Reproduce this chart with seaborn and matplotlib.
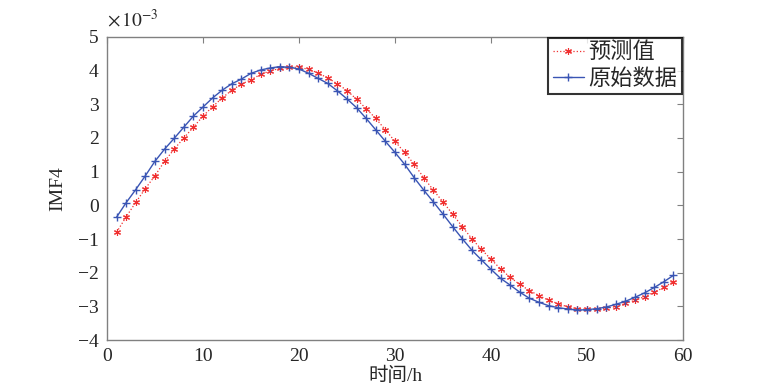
import numpy as np
import seaborn as sns
from matplotlib import pyplot as plt

# hours 1..59, values in units of 1e-3
hours = list(range(1, 60))

original = [-0.35, 0.08, 0.47, 0.88, 1.31, 1.67, 1.99, 2.32, 2.65, 2.92,
            3.19, 3.42, 3.61, 3.75, 3.92, 4.02, 4.08, 4.12, 4.10, 4.05,
            3.92, 3.77, 3.62, 3.40, 3.16, 2.90, 2.58, 2.24, 1.90, 1.57,
            1.22, 0.82, 0.45, 0.10, -0.26, -0.63, -0.99, -1.33, -1.62, -1.90,
            -2.17, -2.37, -2.58, -2.76, -2.88, -2.98, -3.04, -3.08, -3.11, -3.10,
            -3.07, -3.02, -2.94, -2.85, -2.73, -2.60, -2.44, -2.27, -2.08]

predicted = [-0.80, -0.34, 0.09, 0.50, 0.88, 1.31, 1.67, 2.00, 2.32, 2.65,
             2.93, 3.19, 3.42, 3.60, 3.73, 3.89, 3.99, 4.07, 4.10, 4.10,
             4.04, 3.93, 3.78, 3.61, 3.41, 3.15, 2.87, 2.58, 2.24, 1.90,
             1.57, 1.22, 0.82, 0.45, 0.10, -0.26, -0.63, -0.99, -1.31, -1.60,
             -1.89, -2.14, -2.35, -2.53, -2.68, -2.82, -2.92, -3.02, -3.07, -3.09,
             -3.09, -3.05, -3.01, -2.91, -2.82, -2.71, -2.58, -2.44, -2.27]

xticks = list(range(0, 61, 10))
yticks = list(range(-4, 6))

red = '#f03030'
blue = '#3a55b4'

sns.set_style("white")
plt.rcParams['font.family'] = ['Liberation Serif', 'Noto Sans CJK SC']
plt.rcParams['mathtext.fontset'] = 'stix'

fig = plt.figure(figsize=(7.73, 3.91), dpi=100)
ax = fig.add_axes([0.1384, 0.1304, 0.7452, 0.775])

# seaborn defaults to white marker edges, so set them explicitly
# (6, 2, 0) = MATLAB-style asterisk
sns.lineplot(x=hours, y=predicted, ax=ax, color=red, linestyle=':',
             linewidth=0.9, marker=(6, 2, 0), markersize=5, markeredgewidth=0.8,
             markeredgecolor=red, label='预测值')
sns.lineplot(x=hours, y=original, ax=ax, color=blue, linestyle='-',
             linewidth=1.0, marker='+', markersize=6, markeredgewidth=1.0,
             markeredgecolor=blue, label='原始数据')

ax.set_xlim(0, 60)
ax.set_ylim(-4, 5)
ax.set_xticks(xticks)
ax.set_yticks(yticks)
ax.tick_params(direction='in', length=4, width=0.8, color='#808080',
               labelsize=14, top=True, right=True, pad=6)
for s in ax.spines.values():
    s.set_color('#808080')
    s.set_linewidth(1.0)

ax.set_xlabel('时间/h', fontsize=14, labelpad=1)
ax.set_ylabel('IMF4', fontsize=14, labelpad=8)
ax.text(0.0, 1.02, r'$\times\,10^{-3}$', transform=ax.transAxes, fontsize=14,
        ha='left', va='bottom')

leg = ax.legend(loc='upper right', fontsize=16, frameon=True, fancybox=False,
                edgecolor='black', borderpad=0.2, handlelength=1.4,
                handletextpad=0.2, borderaxespad=0.05, labelspacing=0.25)
leg.get_frame().set_linewidth(1.5)

fig.savefig('out.png', dpi=100)
